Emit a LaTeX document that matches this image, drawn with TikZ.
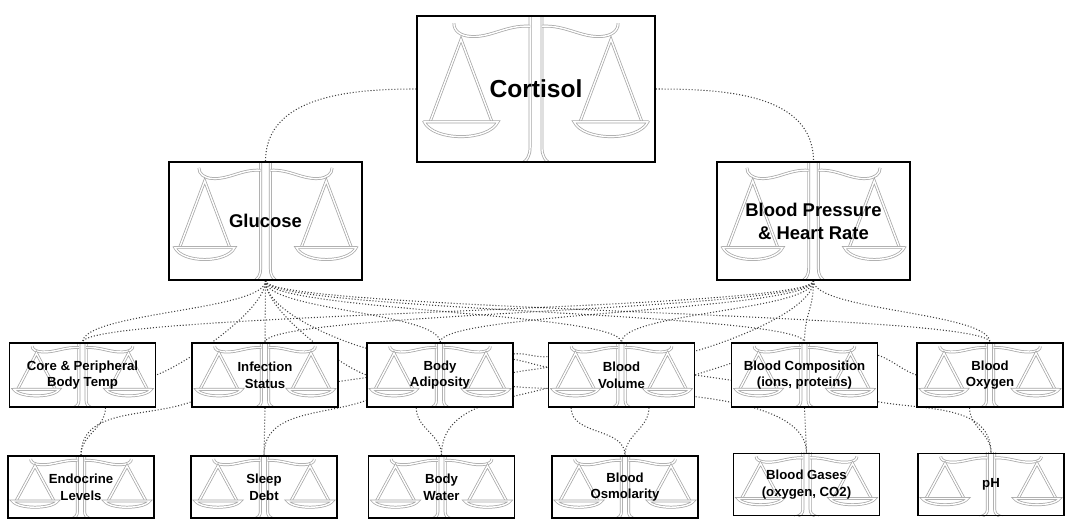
\documentclass[tikz,border=0pt]{standalone}
\usepackage{fontspec}
\setmainfont{Liberation Sans}
\usetikzlibrary{backgrounds}

\pgfdeclarelayer{links}
\pgfdeclarelayer{icons}
\pgfsetlayers{links,icons,main}

\tikzset{
	link/.style={line width=0.6pt, black!75, dash pattern=on 0.6pt off 1.1pt},
	scaleline/.style={draw=gray!70, double=white, line width=0.42pt, double distance=0.8pt},
	panel/.style 2 args={draw, line width=0.8pt, inner sep=0pt, align=center,
		minimum width=#1cm, minimum height=#2cm},
	topbox/.style={panel={4.76}{2.92}, font=\bfseries\fontsize{14}{17}\selectfont},
	bigbox/.style={panel={3.86}{2.36}, font=\bfseries\fontsize{10.5}{13}\selectfont},
	rowbox/.style={panel={2.92}{1.28}, font=\bfseries\fontsize{7.5}{9.5}\selectfont},
	lowbox/.style={panel={2.92}{1.24}, font=\bfseries\fontsize{7.5}{9.5}\selectfont},
}

% scale drawn in a -1..1 box
\newcommand{\drawbalance}{%
	\foreach \s in {1,-1}{
		\begin{scope}[xscale=\s]
		\draw[scaleline] (0.05,1.1) -- (0.05,-0.8) to[out=-90,in=150] (0.16,-1.05);
		\draw[scaleline] (0.05,0.86) .. controls (0.25,0.88) and (0.38,0.7) .. (0.55,0.72) .. controls (0.64,0.73) and (0.69,0.8) .. (0.69,0.9);
		\draw[scaleline] (0.89,-0.45) -- (0.63,0.68) -- (0.37,-0.45);
		\draw[scaleline] (0.94,-0.45) -- (0.32,-0.45) .. controls (0.4,-0.72) and (0.86,-0.72) .. cycle;
		\end{scope}
	}%
}

\begin{document}
\begin{tikzpicture}
		\useasboundingbox (0,0) rectangle (21.46,10.56);
		\node[topbox] (cort) at (10.72,8.78) {Cortisol};
		\node[bigbox] (gluc) at (5.31,6.14) {Glucose};
		\node[bigbox] (bp) at (16.27,6.14) {Blood Pressure\\\& Heart Rate};
		
		\node[rowbox] (core) at (1.65,3.06) {Core \& Peripheral\\Body Temp};
		\node[rowbox] (infect) at (5.30,3.06) {Infection\\Status};
		\node[rowbox] (adip) at (8.80,3.06) {Body\\Adiposity};
		\node[rowbox] (vol) at (12.43,3.06) {Blood\\Volume};
		\node[rowbox] (comp) at (16.09,3.06) {Blood Composition\\(ions, proteins)};
		\node[rowbox] (oxy) at (19.80,3.06) {Blood\\Oxygen};
		
		\node[lowbox] (endo) at (1.62,0.82) {Endocrine\\Levels};
		\node[lowbox] (sleep) at (5.28,0.82) {Sleep\\Debt};
		\node[lowbox] (water) at (8.83,0.82) {Body\\Water};
		\node[lowbox] (osm) at (12.50,0.82) {Blood\\Osmolarity};
		\node[lowbox] (gases) at (16.13,0.87) {Blood Gases\\(oxygen, CO2)};
		\node[lowbox] (ph) at (19.82,0.87) {pH};
		
		\begin{pgfonlayer}{icons}
		\foreach \n/\w/\h in {cort/2.38/1.46, gluc/1.93/1.18, bp/1.93/1.18,
			core/1.46/0.64, infect/1.46/0.64, adip/1.46/0.64, vol/1.46/0.64, comp/1.46/0.64, oxy/1.46/0.64,
			endo/1.46/0.62, sleep/1.46/0.62, water/1.46/0.62, osm/1.46/0.62, gases/1.46/0.62, ph/1.46/0.62}{
			\fill[white] (\n.south west) rectangle (\n.north east);
			\begin{scope}
			\clip (\n.south west) rectangle (\n.north east);
			\begin{scope}[shift={(\n.center)},xscale=\w,yscale=\h]
			\drawbalance
			\end{scope}
			\end{scope}
		}
		\end{pgfonlayer}
		
		\begin{pgfonlayer}{links}
		\draw[link] (cort.west) to[out=180,in=90] (gluc.north);
		\draw[link] (cort.east) to[out=0,in=90] (bp.north);
		\foreach \t in {core,infect,adip,vol,comp,oxy}{
			\draw[link] (gluc.south) to[out=-90,in=90,distance=0.6cm] (\t.north);
			\draw[link] (bp.south) to[out=-90,in=90,distance=0.6cm] (\t.north);
		}
		\draw[link] (gluc.south) to[out=-90,in=20,distance=0.6cm] (core.east);
		\draw[link] (gluc.south) to[out=-90,in=160,distance=0.6cm] (adip.west);
		\draw[link] (gluc.south) to[out=-90,in=165,distance=0.6cm] (adip.160);
		\draw[link] (bp.south) to[out=-90,in=15,distance=0.6cm] (vol.18);
		
		\draw[link] (infect.-5) -- (adip.182);
		\draw[link] (adip.16) to[out=5,in=185] (vol.166);
		\draw[link] (adip.12) to[out=-10,in=170] (vol.174);
		\draw[link] (adip.2) to[out=10,in=190] (vol.174);
		\draw[link] (vol.east) to[out=20,in=200] (comp.171);
		\draw[link] (vol.east) -- (comp.184);
		\draw[link] (comp.15) to[out=-20,in=160] (oxy.west);
		
		\draw[link] (core.305) to[out=-90,in=90] (endo.north);
		\draw[link] (endo.north) to[out=90,in=200] (infect.200);
		\draw[link] (infect.south) -- (sleep.north);
		\draw[link] (sleep.north) to[out=90,in=200] (adip.199);
		\draw[link] (adip.234) to[out=-90,in=90] (water.north);
		\draw[link] (water.north) to[out=90,in=195] (vol.190);
		\draw[link] (vol.213) to[out=-90,in=90] (osm.north);
		\draw[link] (vol.310) to[out=-90,in=90] (osm.north);
		\draw[link] (adip.-9) to[out=-5,in=90,looseness=0.6] (gases.north);
		\draw[link] (comp.south) -- (gases.north);
		\draw[link] (comp.-20) to[out=-10,in=90] (ph.north);
		\draw[link] (oxy.238) to[out=-90,in=90] (ph.north);
		\end{pgfonlayer}
\end{tikzpicture}
\end{document}
